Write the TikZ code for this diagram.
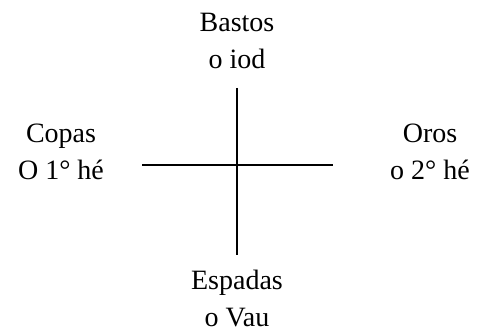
\documentclass[tikz,border=0pt]{standalone}
\usepackage{fontspec}
\setmainfont{Liberation Serif}
\begin{document}
\begin{tikzpicture}[x=1pt,y=1pt,
  lbl/.style={align=center,inner sep=0pt,font=\fontsize{28}{37}\selectfont}]
\useasboundingbox (0,0) rectangle (482,328);
\coordinate (top) at (237,240);
\coordinate (bot) at (237,73);
\coordinate (left) at (142,163);
\coordinate (right) at (333,163);
\draw[line width=1.2pt] (top) -- (bot);
\draw[line width=1.2pt] (left) -- (right);
\node[lbl] (b) at (237,287) {Bastos\\o iod};
\node[lbl] (c) at (61,176) {Copas\\O 1° hé};
\node[lbl] (o) at (430,176) {Oros\\o 2° hé};
\node[lbl] (e) at (237,29) {Espadas\\o Vau};
\end{tikzpicture}
\end{document}
